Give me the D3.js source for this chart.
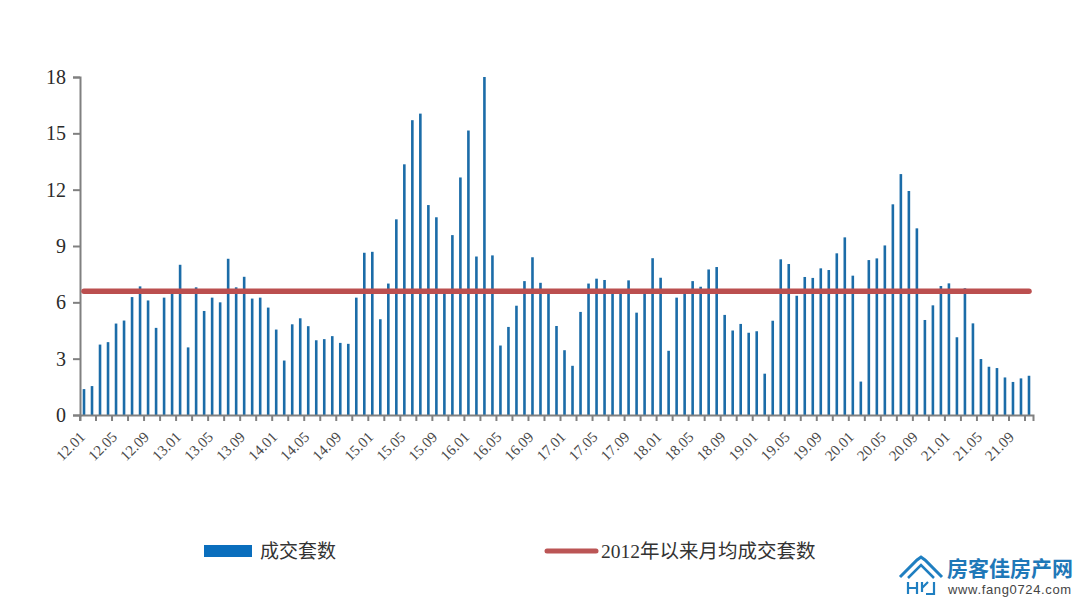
<!DOCTYPE html>
<html lang="en">
<head>
<meta charset="utf-8">
<title>成交套数</title>
<script src="https://cdnjs.cloudflare.com/ajax/libs/d3/7.8.5/d3.min.js"></script>
<style>
    html, body { margin: 0; padding: 0; background: #fff; }
    svg { display: block; }
    .serif { font-family: "Liberation Serif", serif; }
    .cjk { font-family: "Liberation Serif", "Noto Sans CJK SC", serif; }
</style>
</head>
<body>
<div id="plot"></div>
<script>
// month labels, 12.01 to 21.11
var months = [
    "12.01","12.02","12.03","12.04","12.05","12.06","12.07","12.08","12.09","12.10","12.11","12.12",
    "13.01","13.02","13.03","13.04","13.05","13.06","13.07","13.08","13.09","13.10","13.11","13.12",
    "14.01","14.02","14.03","14.04","14.05","14.06","14.07","14.08","14.09","14.10","14.11","14.12",
    "15.01","15.02","15.03","15.04","15.05","15.06","15.07","15.08","15.09","15.10","15.11","15.12",
    "16.01","16.02","16.03","16.04","16.05","16.06","16.07","16.08","16.09","16.10","16.11","16.12",
    "17.01","17.02","17.03","17.04","17.05","17.06","17.07","17.08","17.09","17.10","17.11","17.12",
    "18.01","18.02","18.03","18.04","18.05","18.06","18.07","18.08","18.09","18.10","18.11","18.12",
    "19.01","19.02","19.03","19.04","19.05","19.06","19.07","19.08","19.09","19.10","19.11","19.12",
    "20.01","20.02","20.03","20.04","20.05","20.06","20.07","20.08","20.09","20.10","20.11","20.12",
    "21.01","21.02","21.03","21.04","21.05","21.06","21.07","21.08","21.09","21.10","21.11"
];
// monthly deals
var deals = [
    1.38,1.54,3.75,3.88,4.87,5.03,6.28,6.85,6.10,4.64,6.25,6.55,
    8.00,3.60,6.80,5.54,6.25,6.00,8.32,6.80,7.36,6.20,6.25,5.72,
    4.55,2.90,4.83,5.15,4.73,3.98,4.04,4.20,3.84,3.79,6.25,8.64,
    8.69,5.10,7.00,10.42,13.35,15.70,16.05,11.18,10.53,6.50,9.58,12.65,
    15.15,8.44,18.00,8.50,3.70,4.69,5.82,7.13,8.40,7.04,6.46,4.74,
    3.45,2.62,5.49,7.00,7.26,7.19,6.46,6.46,7.17,5.45,6.46,8.35,
    7.31,3.42,6.25,6.50,7.13,6.83,7.75,7.88,5.33,4.50,4.85,4.38,
    4.46,2.20,5.02,8.29,8.04,6.35,7.35,7.30,7.81,7.72,8.61,9.46,
    7.42,1.78,8.25,8.34,9.03,11.22,12.83,11.93,9.94,5.06,5.84,6.87,
    7.01,4.14,6.75,4.88,2.98,2.57,2.50,2.00,1.76,1.95,2.09
];
var average = 6.59;
var yTicks = [0, 3, 6, 9, 12, 15, 18];
var legendNames = ["成交套数", "2012年以来月均成交套数"];

var width = 1080;
var height = 602;

var svg = d3.select("#plot").append("svg")
    .attr("width", width)
    .attr("height", height);

var xScale = d3.scaleBand().domain(months).range([80, 1033]);
var yScale = d3.scaleLinear().domain([0, 18]).range([415, 77]);

// bars
svg.append("g").selectAll("rect")
    .data(deals)
    .enter()
    .append("rect")
    .attr("x", function(d, i) { return xScale(months[i]) + xScale.bandwidth() / 2 - 1.3; })
    .attr("y", function(d) { return yScale(d); })
    .attr("width", 2.6)
    .attr("height", function(d) { return yScale(0) - yScale(d); })
    .attr("fill", "#1b6ca8");

// y axis
var yAxis = d3.axisLeft(yScale).tickValues(yTicks).tickSize(7).tickPadding(7);
var yG = svg.append("g")
    .attr("transform", "translate(80,0)")
    .call(yAxis);
yG.selectAll("path, line").attr("stroke", "#808080").attr("stroke-width", 2);
yG.selectAll("text")
    .attr("class", "serif")
    .attr("font-size", 20)
    .attr("fill", "#2b2b2b");

// x axis: a tick every two months on the band edge, a label every four
var xAxis = d3.axisBottom(xScale)
    .tickValues(months.filter(function(d, i) { return i % 2 == 0; }))
    .tickSizeOuter(0)
    .tickSize(6)
    .tickFormat(function(d) { return months.indexOf(d) % 4 == 0 ? d : ""; });
var xG = svg.append("g")
    .attr("transform", "translate(0,415)")
    .call(xAxis);
xG.selectAll(".tick").attr("transform", function(d) { return "translate(" + xScale(d) + ",0)"; });
xG.selectAll("path, line").attr("stroke", "#808080").attr("stroke-width", 2);
xG.selectAll("text")
    .attr("class", "serif")
    .attr("font-size", 15)
    .attr("fill", "#4a4a4a")
    .attr("text-anchor", "end")
    .attr("dy", 0)
    .attr("y", 0)
    .attr("transform", "translate(6,23) rotate(-45)");

// average line
var line = d3.line()
    .x(function(d) { return xScale(d) + xScale.bandwidth() / 2; })
    .y(function() { return yScale(average); });
svg.append("path")
    .datum([months[0], months[months.length - 1]])
    .attr("d", line)
    .attr("fill", "none")
    .attr("stroke", "#bb4f4f")
    .attr("stroke-width", 5.5)
    .attr("stroke-linecap", "round");

// legend
svg.append("rect")
    .attr("x", 204).attr("y", 545)
    .attr("width", 48).attr("height", 12)
    .attr("fill", "#0a6ebd");
svg.append("text")
    .attr("class", "cjk")
    .attr("x", 260).attr("y", 558)
    .attr("font-size", 19)
    .attr("fill", "#333")
    .text(legendNames[0]);
svg.append("line")
    .attr("x1", 547).attr("x2", 596)
    .attr("y1", 551).attr("y2", 551)
    .attr("stroke", "#bb5555")
    .attr("stroke-width", 5)
    .attr("stroke-linecap", "round");
svg.append("text")
    .attr("class", "cjk")
    .attr("x", 601).attr("y", 558)
    .attr("font-size", 19.5)
    .attr("fill", "#333")
    .text(legendNames[1]);

// watermark logo
var logo = svg.append("g").attr("fill", "none").attr("stroke", "#1f7fc1");
logo.append("path")
    .attr("d", "M900,577 L917,560 L921,557 L925,560 L942,577")
    .attr("stroke-width", 3);
logo.append("path")
    .attr("d", "M908,578 L921,565 L934,578")
    .attr("stroke-width", 2.5);
logo.append("path")
    .attr("d", "M908,582 V594 M917,582 V594 M908,588 H917")
    .attr("stroke-width", 2.2);
logo.append("path")
    .attr("d", "M922,582 L922,592 M922,588 L928,582 M934,582 V594 H926")
    .attr("stroke-width", 2.2);
svg.append("text")
    .attr("x", 947).attr("y", 576)
    .attr("font-family", "Noto Sans CJK SC")
    .attr("font-weight", 700)
    .attr("font-size", 21)
    .attr("fill", "#1f78b8")
    .text("房客佳房产网");
svg.append("text")
    .attr("x", 948).attr("y", 594)
    .attr("font-family", "Liberation Sans")
    .attr("font-size", 13)
    .attr("letter-spacing", 0.65)
    .attr("fill", "#444")
    .text("www.fang0724.com");
</script>
</body>
</html>
